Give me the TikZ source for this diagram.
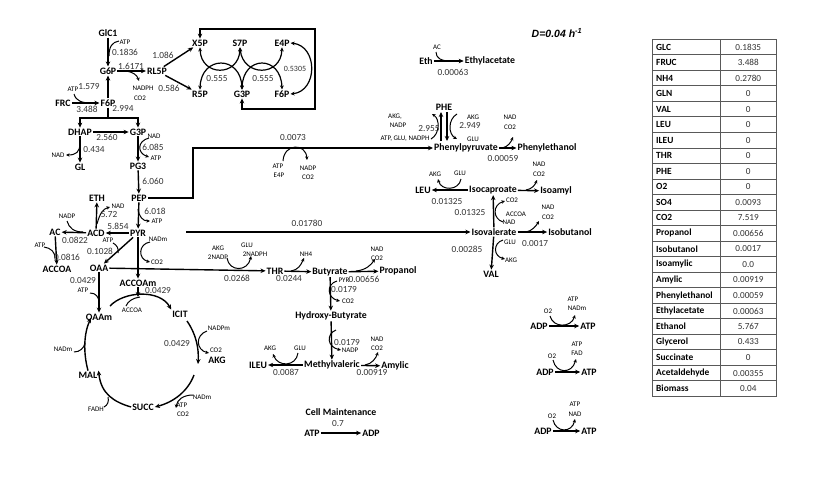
\documentclass[tikz,border=0pt]{standalone}
\usepackage{fontspec}
\setmainfont{Carlito}
\newfontfamily\arialf{Liberation Sans}
\usetikzlibrary{arrows.meta}
\begin{document}
\begin{tikzpicture}[x=1pt,y=-1pt,
 nm/.style={font=\bfseries\fontsize{9.8}{11}\selectfont, inner sep=1pt},
 nu/.style={font=\fontsize{9.3}{10}\selectfont, text=black!80, inner sep=0pt},
 sm/.style={font=\fontsize{7}{8}\selectfont, inner sep=0pt},
 tb/.style={font=\bfseries\fontsize{9.4}{10}\selectfont, inner sep=0pt, anchor=west},
 tv/.style={font=\fontsize{9.2}{10}\selectfont, text=black!80, inner sep=0pt},
 rx/.style={line width=1.4pt, -{Stealth[length=5pt,width=4.5pt]}},
 rxx/.style={line width=1.4pt, {Stealth[length=5pt,width=4.5pt]}-{Stealth[length=5pt,width=4.5pt]}},
 ln/.style={line width=1.4pt},
 sd/.style={line width=1pt, -{Stealth[length=3.6pt,width=3.4pt]}},
 sdd/.style={line width=1.2pt, {Stealth[length=4pt,width=3.8pt]}-{Stealth[length=4pt,width=3.8pt]}},
 sdn/.style={line width=1pt},
 tline/.style={draw=black!65, line width=0.8pt}
]
\fill[white] (0,0) rectangle (815,480);
\useasboundingbox (0,0) rectangle (815,480);

% ---------- species ----------
\node[nm] (glc) at (108,33) {GlC1};
\node[nm] (g6p) at (108,71) {G6P};
\node[nm] (rl5p) at (157,71) {RL5P};
\node[nm] (x5p) at (200,43) {X5P};
\node[nm] (s7p) at (240,43) {S7P};
\node[nm] (e4p) at (282,43) {E4P};
\node[nm] (r5p) at (200,94) {R5P};
\node[nm] (g3pb) at (242,94) {G3P};
\node[nm] (f6pb) at (282,94) {F6P};
\node[nm] (frc) at (63,103) {FRC};
\node[nm] (f6p) at (108,103) {F6P};
\node[nm] (dhap) at (80,132) {DHAP};
\node[nm] (g3p) at (138,132) {G3P};
\node[nm] (gl) at (80,167) {GL};
\node[nm] (pg3) at (138,166) {PG3};
\node[nm] (pep) at (139,198) {PEP};
\node[nm] (eth) at (97,198) {ETH};
\node[nm] (acd) at (96,233) {ACD};
\node[nm] (pyr) at (138,233) {PYR};
\node[nm] (ac) at (55,232) {AC};
\node[nm] (accoa) at (57,269) {ACCOA};
\node[nm] (oaa) at (99,268) {OAA};
\node[nm] (accoam) at (138,283) {ACCOAm};
\node[nm] (oaam) at (99,317) {OAAm};
\node[nm] (icit) at (180,314) {ICIT};
\node[nm] (akg) at (217,360) {AKG};
\node[nm] (succ) at (143,407) {SUCC};
\node[nm] (mal) at (88,375) {MAL};
\node[nm] (thr) at (275,271) {THR};
\node[nm] (but) at (330,272) {Butyrate};
\node[nm] (prop) at (398,271) {Propanol};
\node[nm] (hb) at (331,316) {Hydroxy-Butyrate};
\node[nm] (mv) at (332,365) {Methylvaleric};
\node[nm] (ileu) at (258,365) {ILEU};
\node[nm] (amyl) at (395,366) {Amylic};
\node[nm] (cm) at (341,412) {Cell Maintenance};
\node[nm] (atpc) at (312,433) {ATP};
\node[nm] (adpc) at (371,433) {ADP};
\node[nm] (ethx) at (426,61) {Eth};
\node[nm] (etac) at (490,61) {Ethylacetate};
\node[nm] (phe) at (444,107) {PHE};
\node[nm] (ppy) at (466,148) {Phenylpyruvate};
\node[nm] (peth) at (547,148) {Phenylethanol};
\node[nm] (leu) at (423,190) {LEU};
\node[nm] (icap) at (493,190) {Isocaproate};
\node[nm] (iam) at (556,191) {Isoamyl};
\node[nm] (ival) at (494,232) {Isovalerate};
\node[nm] (ibut) at (570,232) {Isobutanol};
\node[nm] (val) at (491,274) {VAL};
\node[nm] (adp1) at (539,326) {ADP};
\node[nm] (atp1) at (588,326) {ATP};
\node[nm] (adp2) at (545,372) {ADP};
\node[nm] (atp2) at (589,372) {ATP};
\node[nm] (adp3) at (543,431) {ADP};
\node[nm] (atp3) at (589,431) {ATP};
\node[font=\arialf\bfseries\itshape\fontsize{10.5}{12}\selectfont, inner sep=0pt] (dlab) at (557,33) {D=0.04 h\textsuperscript{-1}};

% ---------- main connectors ----------
\draw[rx] (glc) -- (g6p);
\draw[rx] (g6p) -- (rl5p);
\draw[rx] (rl5p) -- (x5p);
\draw[rx] (rl5p) -- (r5p);
\draw[sdd] (x5p.south) .. controls (201,77) and (239,77) .. (s7p.south);
\draw[sdd] (s7p.south) .. controls (243,77) and (281,77) .. (e4p.south);
\draw[sdd] (r5p.north) .. controls (201,55) and (241,55) .. (g3pb.north);
\draw[sdd] (g3pb.north) .. controls (243,55) and (281,55) .. (f6pb.north);
\draw[sdd] (e4p.east) .. controls (318,46) and (318,91) .. (f6pb.east);
\coordinate (ppA) at (315,29);
\coordinate (ppB) at (315,109);
\draw[rxx] (x5p.north) |- (ppA) -- (ppB) -| (g3pb.south);
\draw[rx] (frc) -- (f6p);
\draw[rx] (f6p) -- (g6p);
\coordinate (split) at (108,118);
\draw[ln] (f6p) -- (split);
\draw[rx] (split) -| (dhap.north);
\draw[rx] (split) -| (g3p.north);
\draw[rx] (dhap) -- (g3p);
\draw[rx] (g3p) -- (pg3);
\draw[rx] (dhap) -- (gl);
\draw[rx] (pg3) -- (pep);
\draw[rx] (pep) -- (pyr);
\coordinate (pepc) at (193,198);
\draw[rx] (pep.east) -- (pepc) |- (ppy.west);
\draw[rx] (pyr) -- (acd);
\draw[rx] (acd) -- (eth);
\draw[rx] (acd) -- (ac);
\draw[rx] (ac) -- (accoa);
\draw[rx] (pyr) -- (oaa);
\draw[rx] (pyr) -- (accoam);
\draw[rx] (oaa) -- (thr);
\draw[rx] (oaa) -- (oaam);
\coordinate (l178) at (186,232);
\draw[rx] (l178) -- (ival);
\draw[rx] (thr) -- (but);
\draw[rx] (but) -- (prop);
\draw[rx] (but) -- (hb);
\draw[rx] (hb) -- (mv);
\draw[rx] (mv) -- (ileu);
\draw[rx] (mv) -- (amyl);
\draw[rx] (atpc) -- (adpc);
\draw[rx] (ethx) -- (etac);
\coordinate (phA) at (441,141); \coordinate (phB) at (441,112);
\coordinate (phC) at (447,112); \coordinate (phD) at (447,141);
\draw[rx] (phA) -- (phB);
\draw[rx] (phC) -- (phD);
\draw[rx] (ppy) -- (peth);
\draw[rx] (icap) -- (leu);
\draw[rx] (icap) -- (iam);
\draw[rx] (ival) -- (icap);
\draw[rx] (ival) -- (ibut);
\draw[rx] (ival) -- (val);
\draw[rx] (adp1) -- (atp1);
\draw[rx] (adp2) -- (atp2);
\draw[rx] (adp3) -- (atp3);

% TCA cycle
\coordinate (tcaT) at (138,297);
\draw[rx] (accoam) -- (tcaT);
\draw[rx] (110,306) .. controls (124,291) and (160,289) .. (icit.north west);
\draw[rx] (187,321) .. controls (196,334) and (199,348) .. (198,364);
\draw[rx] (194,375) .. controls (188,391) and (174,402) .. (succ.east);
\draw[rx] (succ.west) .. controls (114,402) and (101,394) .. (mal.north east);
\draw[rx] (mal.north) .. controls (83,352) and (84,333) .. (91,318);

% ---------- side reactions ----------
\draw[sdn] (119,41) .. controls (112,42) and (109,47) .. (109,56);
\draw[sd] (126,71) .. controls (133,72) and (137,75) .. (139,81);
\draw[sdn] (74,94) .. controls (76,101) and (82,103) .. (91,103);
\draw[sd] (80,143) .. controls (80,152) and (76,155) .. (66,155);
\draw[sd] (149,138) .. controls (137,141) and (137,153) .. (149,157);
\draw[sd] (283,161) .. controls (284,143) and (306,143) .. (307,160);
\draw[sd] (138,209) .. controls (139,217) and (143,221) .. (150,221);
\draw[sd] (97,224) .. controls (100,213) and (103,209) .. (110,207);
\draw[sdn] (67,221) .. controls (69,228) and (74,232) .. (83,232);
\draw[sdn] (44,247) .. controls (51,248) and (55,252) .. (55,258);
\draw[sdn] (113,243) .. controls (117,245) and (119,249) .. (118,253);
\draw[sd] (150,242) .. controls (138,244) and (138,259) .. (150,262);
\draw[sd] (227,258) .. controls (229,272) and (248,272) .. (251,256);
\draw[sdn] (90,293) .. controls (96,293) and (99,297) .. (99,303);
\draw[sdn] (126,306) .. controls (128,301) and (133,298) .. (140,297);
\draw[sd] (207,331) .. controls (195,335) and (196,350) .. (209,353);
\draw[sd] (193,395) .. controls (183,395) and (177,400) .. (176,408);
\draw[sdn] (104,407) .. controls (108,405) and (109,401) .. (108,397);
\draw[sdn] (74,352) .. controls (80,352) and (84,348) .. (85,343);
\draw[sd] (291,271) .. controls (298,270) and (301,265) .. (304,258);
\draw[sd] (356,271) .. controls (366,270) and (371,265) .. (375,259);
\draw[sd] (337,281) .. controls (326,284) and (327,298) .. (340,301);
\draw[sd] (336,330) .. controls (326,334) and (327,347) .. (341,350);
\draw[sd] (298,353) .. controls (296,367) and (278,367) .. (273,354);
\draw[sd] (365,365) .. controls (372,364) and (376,358) .. (378,352);
\draw[sdn] (436,52) .. controls (436,58) and (441,61) .. (450,61);
\draw[sd] (431,139) .. controls (440,134) and (440,119) .. (432,114);
\draw[sd] (457,114) .. controls (448,119) and (448,134) .. (457,139);
\draw[sd] (502,148) .. controls (508,147) and (511,142) .. (513,137);
\draw[sd] (461,179) .. controls (459,191) and (441,191) .. (438,179);
\draw[sd] (526,190) .. controls (532,189) and (535,185) .. (537,180);
\draw[sd] (503,222) .. controls (493,219) and (492,205) .. (505,201);
\draw[sd] (526,232) .. controls (532,231) and (536,226) .. (539,221);
\draw[sd] (503,240) .. controls (493,243) and (493,256) .. (505,259);
\draw[sd] (550,316) .. controls (553,328) and (571,328) .. (575,315);
\draw[sd] (553,360) .. controls (556,374) and (572,374) .. (576,359);
\draw[sd] (553,420) .. controls (556,433) and (572,433) .. (575,419);

% ---------- flux numbers ----------
\node[nu] (v1) at (125,52) {0.1836};
\node[nu] (v2) at (131,66) {1.6171};
\node[nu] (v3) at (163,55) {1.086};
\node[nu] (v4) at (169,88) {0.586};
\node[nu] (v5) at (217,79) {0.555};
\node[nu] (v6) at (263,79) {0.555};
\node[nu, font=\fontsize{8}{9}\selectfont] (v7) at (295,69) {0.5305};
\node[nu] (v8) at (89,87) {1.579};
\node[nu] (v9) at (87,109) {3.488};
\node[nu] (v10) at (123,109) {2.994};
\node[nu] (v11) at (107,137) {2.560};
\node[nu] (v12) at (153,147) {6.085};
\node[nu] (v13) at (94,150) {0.434};
\node[nu] (v14) at (153,181) {6.060};
\node[nu] (v15) at (293,138) {0.0073};
\node[nu] (v16) at (155,211) {6.018};
\node[nu] (v17) at (109,215) {5.72};
\node[nu] (v18) at (118,226) {5.854};
\node[nu] (v19) at (75,240) {0.0822};
\node[nu] (v20) at (67,257) {0.0816};
\node[nu] (v21) at (100,251) {0.1028};
\node[nu] (v22) at (158,291) {0.0429};
\node[nu] (v23) at (83,281) {0.0429};
\node[nu] (v24) at (237,278) {0.0268};
\node[nu] (v25) at (177,344) {0.0429};
\node[nu] (v26) at (289,279) {0.0244};
\node[nu] (v27) at (364,279) {0.00656};
\node[nu] (v28) at (344,290) {0.0179};
\node[nu] (v29) at (347,343) {0.0179};
\node[nu] (v30) at (286,372) {0.0087};
\node[nu] (v31) at (372,373) {0.00919};
\node[nu] (v32) at (338,424) {0.7};
\node[nu] (v33) at (307,223) {0.01780};
\node[nu] (v34) at (453,72) {0.00063};
\node[nu] (v35) at (429,129) {2.955};
\node[nu] (v36) at (470,126) {2.949};
\node[nu] (v37) at (503,159) {0.00059};
\node[nu] (v38) at (447,202) {0.01325};
\node[nu] (v39) at (470,213) {0.01325};
\node[nu] (v40) at (467,249) {0.00285};
\node[nu] (v41) at (535,244) {0.0017};

% ---------- cofactor labels ----------
\node[sm] (c1) at (125,42) {ATP};
\node[sm] (c2) at (143,88) {NADPH};
\node[sm] (c3) at (140,98) {CO2};
\node[sm] (c4) at (73,89) {ATP};
\node[sm] (c5) at (154,136) {NAD};
\node[sm] (c6) at (156,158) {ATP};
\node[sm] (c7) at (58,155) {NAD};
\node[sm] (c8) at (278,166) {ATP};
\node[sm] (c9) at (279,175) {E4P};
\node[sm] (c10) at (308,168) {NADP};
\node[sm] (c11) at (308,177) {CO2};
\node[sm] (c12) at (157,221) {ATP};
\node[sm] (c13) at (118,206) {NAD};
\node[sm] (c14) at (67,216) {NADP};
\node[sm] (c15) at (40,245) {ATP};
\node[sm] (c16) at (108,240) {ATP};
\node[sm] (c17) at (158,239) {NADm};
\node[sm] (c18) at (157,262) {CO2};
\node[sm] (c19) at (218,248) {AKG};
\node[sm] (c20) at (218,257) {2NADP};
\node[sm] (c21) at (247,245) {GLU};
\node[sm] (c22) at (255,254) {2NADPH};
\node[sm] (c23) at (83,290) {ATP};
\node[sm] (c24) at (132,310) {ACCOA};
\node[sm] (c25) at (219,328) {NADPm};
\node[sm] (c26) at (216,350) {CO2};
\node[sm] (c27) at (202,397) {NADm};
\node[sm] (c28) at (182,405) {ATP};
\node[sm] (c29) at (183,414) {CO2};
\node[sm] (c30) at (96,409) {FADH};
\node[sm] (c31) at (63,349) {NADm};
\node[sm] (c32) at (306,254) {NH4};
\node[sm] (c33) at (377,249) {NAD};
\node[sm] (c34) at (377,258) {CO2};
\node[sm] (c35) at (344,280) {PYR};
\node[sm] (c36) at (348,301) {CO2};
\node[sm] (c37) at (350,350) {NADP};
\node[sm] (c38) at (270,348) {AKG};
\node[sm] (c39) at (300,348) {GLU};
\node[sm] (c40) at (377,339) {NAD};
\node[sm] (c41) at (377,348) {CO2};
\node[sm] (c42) at (437,47) {AC};
\node[sm] (c43) at (395,117) {AKG,};
\node[sm] (c44) at (398,125) {NADP};
\node[sm] (c45) at (405,139) {ATP, GLU, NADPH};
\node[sm] (c46) at (473,117) {AKG};
\node[sm] (c47) at (473,139) {GLU};
\node[sm] (c48) at (510,117) {NAD};
\node[sm] (c49) at (510,127) {CO2};
\node[sm] (c50) at (435,174) {AKG};
\node[sm] (c51) at (460,173) {GLU};
\node[sm] (c52) at (539,164) {NAD};
\node[sm] (c53) at (539,174) {CO2};
\node[sm] (c54) at (512,200) {CO2};
\node[sm] (c55) at (516,214) {ACCOA};
\node[sm] (c56) at (509,222) {NAD};
\node[sm] (c57) at (548,207) {NAD};
\node[sm] (c58) at (548,217) {CO2};
\node[sm] (c59) at (510,242) {GLU};
\node[sm] (c60) at (511,260) {AKG};
\node[sm] (c61) at (548,311) {O2};
\node[sm] (c62) at (573,299) {ATP};
\node[sm] (c63) at (577,308) {NADm};
\node[sm] (c64) at (552,356) {O2};
\node[sm] (c65) at (577,344) {ATP};
\node[sm] (c66) at (577,353) {FAD};
\node[sm] (c67) at (552,416) {O2};
\node[sm] (c68) at (575,404) {ATP};
\node[sm] (c69) at (575,414) {NAD};

% ---------- table ----------
\foreach [count=\i] \a/\b in {GLC/0.1835, FRUC/3.488, NH4/0.2780, GLN/0, VAL/0, LEU/0, ILEU/0, THR/0, PHE/0, O2/0, SO4/0.0093, CO2/7.519, Propanol/0.00656, Isobutanol/0.0017, Isoamylic/0.0, Amylic/0.00919, Phenylethanol/0.00059, Ethylacetate/0.00063, Ethanol/5.767, Glycerol/0.433, Succinate/0, Acetaldehyde/0.00355, Biomass/0.04} {
  \node[tb] (tl\i) at (656,{39.2+15.53*(\i-0.5)}) {\a};
  \node[tv] (tv\i) at (748.3,{39.2+15.53*(\i-0.5)}) {\b};
}
\draw[tline] (652,39.2) rectangle (776,396.4);
\draw[tline] (720.7,39.2) -- (720.7,396.4);
\foreach \i in {1,...,22} {
  \draw[tline] (652,{39.2+15.53*\i}) -- (776,{39.2+15.53*\i});
}
\end{tikzpicture}
\end{document}
